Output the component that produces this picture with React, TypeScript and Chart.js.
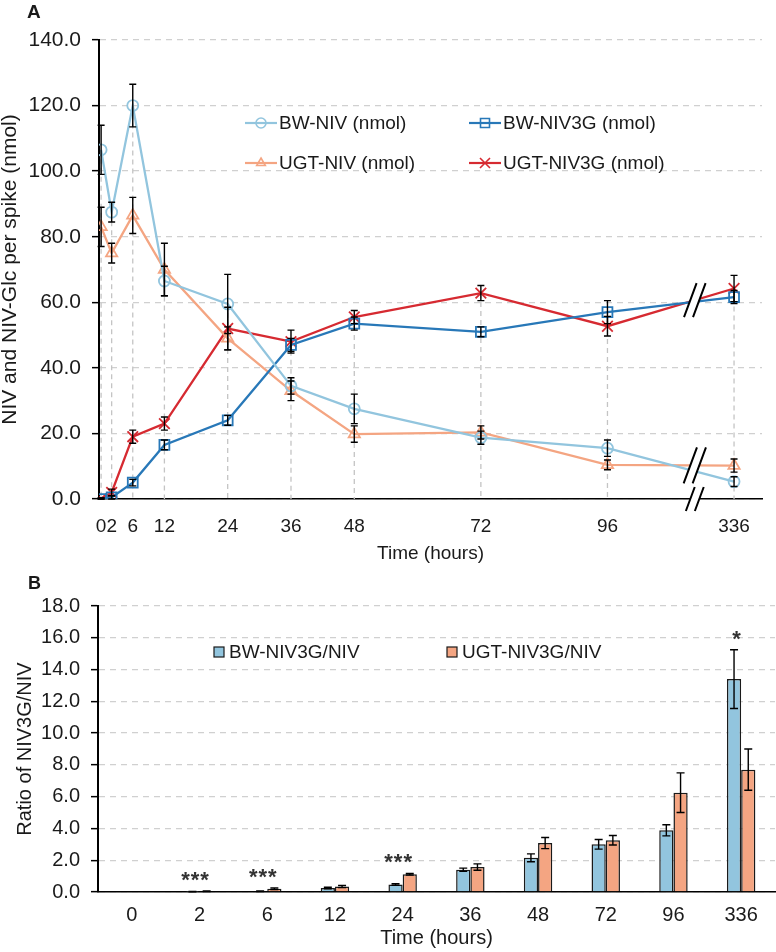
import React, { useEffect, useRef } from "react";
import { Chart, registerables } from "chart.js";

Chart.register(...registerables);

const FONT = "'Liberation Sans', Arial, Helvetica, sans-serif";
const INK = "#1a1a1a";
const GRID = "#d0d0d0";

// ---------- Data (panel A) ----------
const timeLabels = ["0", "2", "6", "12", "24", "36", "48", "72", "96", "336"];
const timeHours = [0, 2, 6, 12, 24, 36, 48, 72, 96, 336];

const bwNiv = [106.5, 87.5, 120.0, 66.5, 59.5, 34.5, 27.5, 18.7, 15.5, 5.3];
const bwNivErr = [7.5, 3.0, 6.5, 4.5, 9.0, 2.5, 4.5, 2.0, 2.5, 1.5];
const ugtNiv = [83.0, 75.0, 86.5, 70.0, 49.0, 33.0, 19.8, 20.3, 10.4, 10.2];
const ugtNivErr = [6.0, 3.0, 5.5, 8.0, 3.5, 3.0, 2.5, 2.0, 1.5, 2.0];
const bwNiv3g = [0.0, 0.5, 5.0, 16.5, 24.0, 47.0, 53.5, 51.0, 57.0, 61.6];
const bwNiv3gErr = [0.3, 0.5, 1.0, 1.5, 1.5, 2.0, 2.0, 1.5, 3.5, 2.0];
const ugtNiv3g = [0.0, 2.0, 19.0, 23.0, 52.0, 48.0, 55.5, 62.8, 52.7, 64.2];
const ugtNiv3gErr = [0.3, 1.0, 2.0, 2.0, 6.5, 3.5, 2.0, 2.3, 3.0, 4.0];

const topYTicks = [0, 20, 40, 60, 80, 100, 120, 140];

// ---------- Data (panel B) ----------
const bwRatio = [0, 0.02, 0.05, 0.25, 0.47, 1.4, 2.15, 3.0, 3.88, 13.4];
const bwRatioErr = [0, 0.01, 0.02, 0.05, 0.05, 0.1, 0.25, 0.3, 0.35, 1.85];
const ugtRatio = [0, 0.05, 0.2, 0.35, 1.12, 1.57, 3.08, 3.26, 6.25, 7.7];
const ugtRatioErr = [0, 0.02, 0.05, 0.07, 0.05, 0.2, 0.35, 0.3, 1.25, 1.3];
const sigMarks = ["", "***", "***", "", "***", "", "", "", "", "*"];

// axis break: hours beyond 96 are drawn one 24-h step further on
const breakAt = 96;
const breakGap = 24;
const plotX = (h: number) => (h > breakAt ? breakAt + breakGap : h);

const colBwNiv = "#92C5DE";
const colBwNiv3g = "#2878B8";
const colUgtNiv = "#F4A582";
const colUgtNiv3g = "#D62A31";

const topSeries = [
  { label: "BW-NIV (nmol)", values: bwNiv, errors: bwNivErr, color: colBwNiv, style: "circle", radius: 5.5 },
  { label: "BW-NIV3G (nmol)", values: bwNiv3g, errors: bwNiv3gErr, color: colBwNiv3g, style: "rect", radius: 7 },
  { label: "UGT-NIV (nmol)", values: ugtNiv, errors: ugtNivErr, color: colUgtNiv, style: "triangle", radius: 6.5 },
  { label: "UGT-NIV3G (nmol)", values: ugtNiv3g, errors: ugtNiv3gErr, color: colUgtNiv3g, style: "crossRot", radius: 7.5 },
];

const bottomSeries = [
  { label: "BW-NIV3G/NIV", values: bwRatio, errors: bwRatioErr, color: colBwNiv },
  { label: "UGT-NIV3G/NIV", values: ugtRatio, errors: ugtRatioErr, color: colUgtNiv },
];

function drawMarker(ctx: CanvasRenderingContext2D, style: string, x: number, y: number, r: number, color: string, lw: number) {
  ctx.save();
  ctx.strokeStyle = color;
  ctx.lineWidth = lw;
  ctx.setLineDash([]);
  ctx.beginPath();
  if (style === "circle") ctx.arc(x, y, r, 0, Math.PI * 2);
  else if (style === "rect") ctx.rect(x - r, y - r, 2 * r, 2 * r);
  else if (style === "triangle") {
    ctx.moveTo(x, y - r);
    ctx.lineTo(x + r * 0.866, y + r * 0.5);
    ctx.lineTo(x - r * 0.866, y + r * 0.5);
    ctx.closePath();
  } else {
    ctx.moveTo(x - r, y - r);
    ctx.lineTo(x + r, y + r);
    ctx.moveTo(x + r, y - r);
    ctx.lineTo(x - r, y + r);
  }
  ctx.stroke();
  ctx.restore();
}

function drawErrorBars(chart: any, series: { values: number[]; errors: number[] }[], cap: number) {
  const ctx: CanvasRenderingContext2D = chart.ctx;
  const ys = chart.scales.y;
  ctx.save();
  ctx.strokeStyle = "#000";
  ctx.lineWidth = 1.4;
  ctx.setLineDash([]);
  series.forEach((s, i) => {
    const meta = chart.getDatasetMeta(i);
    meta.data.forEach((el: any, j: number) => {
      const e = s.errors[j];
      if (!e) return;
      const v = s.values[j];
      const x = el.x;
      const y1 = ys.getPixelForValue(v + e);
      const y2 = ys.getPixelForValue(Math.max(0, v - e));
      ctx.beginPath();
      ctx.moveTo(x, y1);
      ctx.lineTo(x, y2);
      ctx.moveTo(x - cap, y1);
      ctx.lineTo(x + cap, y1);
      ctx.moveTo(x - cap, y2);
      ctx.lineTo(x + cap, y2);
      ctx.stroke();
    });
  });
  ctx.restore();
}

function drawBreak(ctx: CanvasRenderingContext2D, cx: number, cy: number, h: number) {
  const dx = h * 0.37;
  const g = 4.5;
  ctx.save();
  ctx.setLineDash([]);
  ctx.fillStyle = "#fff";
  ctx.beginPath();
  ctx.moveTo(cx - g - dx / 2, cy + h / 2);
  ctx.lineTo(cx - g + dx / 2, cy - h / 2);
  ctx.lineTo(cx + g + dx / 2, cy - h / 2);
  ctx.lineTo(cx + g - dx / 2, cy + h / 2);
  ctx.closePath();
  ctx.fill();
  ctx.strokeStyle = "#000";
  ctx.lineWidth = 2;
  ctx.beginPath();
  ctx.moveTo(cx - g - dx / 2, cy + h / 2);
  ctx.lineTo(cx - g + dx / 2, cy - h / 2);
  ctx.moveTo(cx + g - dx / 2, cy + h / 2);
  ctx.lineTo(cx + g + dx / 2, cy - h / 2);
  ctx.stroke();
  ctx.restore();
}

const topPlugin = {
  id: "topExtras",
  beforeDatasetsDraw(chart: any) {
    const ctx: CanvasRenderingContext2D = chart.ctx;
    const xs = chart.scales.x;
    const ys = chart.scales.y;
    ctx.save();
    ctx.setLineDash([5, 4]);
    ctx.strokeStyle = "#c4c4c4";
    ctx.lineWidth = 1.3;
    timeHours.forEach((h, j) => {
      const maxV = Math.max(...topSeries.map((s) => s.values[j]));
      const px = xs.getPixelForValue(plotX(h));
      ctx.beginPath();
      ctx.moveTo(px, ys.getPixelForValue(maxV));
      ctx.lineTo(px, ys.getPixelForValue(0));
      ctx.stroke();
    });
    ctx.restore();
  },
  afterDatasetsDraw(chart: any) {
    drawErrorBars(chart, topSeries, 3.5);
    const ctx: CanvasRenderingContext2D = chart.ctx;
    const xs = chart.scales.x;
    const ys = chart.scales.y;
    const t = 0.69;
    const n = timeHours.length;
    const lerp = (a: number[]) => a[n - 2] + (a[n - 1] - a[n - 2]) * t;
    const bx = xs.getPixelForValue(breakAt + breakGap * t);
    const yTop = Math.max(lerp(bwNiv3g), lerp(ugtNiv3g));
    const yMid = Math.max(lerp(bwNiv), lerp(ugtNiv));
    drawBreak(ctx, bx, ys.getPixelForValue(yTop), 34);
    drawBreak(ctx, bx, ys.getPixelForValue(yMid), 36);
    drawBreak(ctx, bx, ys.getPixelForValue(0), 24);
  },
  afterDraw(chart: any) {
    const ctx: CanvasRenderingContext2D = chart.ctx;
    const cols = [245, 469];
    const rows = [123, 163];
    ctx.save();
    ctx.font = `19px ${FONT}`;
    ctx.textBaseline = "middle";
    ctx.textAlign = "left";
    topSeries.forEach((s, i) => {
      const x = cols[i % 2];
      const y = rows[Math.floor(i / 2)];
      ctx.strokeStyle = s.color;
      ctx.lineWidth = 2.2;
      ctx.setLineDash([]);
      ctx.beginPath();
      ctx.moveTo(x, y);
      ctx.lineTo(x + 32, y);
      ctx.stroke();
      drawMarker(ctx, s.style, x + 16, y, s.style === "rect" ? 4.5 : 5, s.color, 1.6);
      ctx.fillStyle = INK;
      ctx.fillText(s.label, x + 34, y + 1);
    });
    ctx.restore();
  },
};

const bottomPlugin = {
  id: "bottomExtras",
  afterDatasetsDraw(chart: any) {
    drawErrorBars(chart, bottomSeries, 4);
    const ctx: any = chart.ctx;
    const xs = chart.scales.x;
    const ys = chart.scales.y;
    ctx.save();
    ctx.fillStyle = "#333";
    ctx.font = `bold 22px ${FONT}`;
    ctx.letterSpacing = "1px";
    ctx.textAlign = "center";
    ctx.textBaseline = "middle";
    sigMarks.forEach((m, j) => {
      if (!m) return;
      const top = Math.max(...bottomSeries.map((s) => s.values[j] + s.errors[j]));
      const px = xs.getPixelForValue(j);
      ctx.fillText(m, px - 4, ys.getPixelForValue(top) - 10);
    });
    ctx.restore();
  },
  afterDraw(chart: any) {
    const ctx: CanvasRenderingContext2D = chart.ctx;
    const xsPos = [214, 447];
    const y = 82;
    ctx.save();
    ctx.font = `19px ${FONT}`;
    ctx.textBaseline = "middle";
    ctx.textAlign = "left";
    bottomSeries.forEach((s, i) => {
      const x = xsPos[i];
      ctx.fillStyle = s.color;
      ctx.fillRect(x, y - 5, 10, 10);
      ctx.strokeStyle = INK;
      ctx.lineWidth = 1.2;
      ctx.strokeRect(x, y - 5, 10, 10);
      ctx.fillStyle = INK;
      ctx.fillText(s.label, x + 15, y + 1);
    });
    ctx.restore();
  },
};

function topConfig(): any {
  return {
    type: "line",
    data: {
      datasets: topSeries.map((s) => ({
        label: s.label,
        data: timeHours.map((h, j) => ({ x: plotX(h), y: s.values[j] })),
        borderColor: s.color,
        backgroundColor: "rgba(0,0,0,0)",
        borderWidth: 2.3,
        pointStyle: s.style,
        pointRadius: s.radius,
        pointBorderWidth: 1.8,
        pointBorderColor: s.color,
        pointBackgroundColor: "rgba(0,0,0,0)",
        tension: 0,
        fill: false,
      })),
    },
    options: {
      responsive: false,
      animation: false,
      events: [],
      layout: { padding: { top: 40, right: 14, bottom: 0, left: 0 } },
      plugins: { legend: { display: false }, tooltip: { enabled: false } },
      scales: {
        x: {
          type: "linear",
          min: -0.4,
          max: 125.3,
          afterBuildTicks: (scale: any) => {
            scale.ticks = timeHours.map((h) => ({ value: plotX(h) }));
          },
          afterFit: (scale: any) => {
            scale.height = 71;
          },
          ticks: {
            autoSkip: false,
            maxRotation: 0,
            padding: 16,
            color: INK,
            font: { family: FONT, size: 19 },
            callback: (value: number) => {
              const idx = timeHours.map(plotX).indexOf(value);
              return idx >= 0 ? timeLabels[idx] : "";
            },
          },
          grid: { display: false, drawTicks: false },
          border: { display: true, color: "#000", width: 1.6 },
          title: {
            display: true,
            text: "Time (hours)",
            color: INK,
            font: { family: FONT, size: 19 },
            padding: { top: 0, bottom: 5 },
          },
        },
        y: {
          min: 0,
          max: 140,
          afterBuildTicks: (scale: any) => {
            scale.ticks = topYTicks.map((v) => ({ value: v }));
          },
          afterFit: (scale: any) => {
            scale.width = 99;
          },
          ticks: {
            padding: 11,
            color: INK,
            font: { family: FONT, size: 21 },
            callback: (v: number) => Number(v).toFixed(1),
          },
          grid: {
            color: GRID,
            lineWidth: 1.3,
            drawTicks: true,
            tickLength: 7,
            tickColor: "#000",
            tickWidth: 1.5,
            tickBorderDash: [],
          },
          border: { display: true, color: "#000", width: 2, dash: [6, 5] },
          title: {
            display: true,
            text: "NIV and NIV-Glc per spike (nmol)",
            color: INK,
            font: { family: FONT, size: 21, lineHeight: 1 },
            padding: { top: 0, bottom: 0 },
          },
        },
      },
    },
    plugins: [topPlugin],
  };
}

function bottomConfig(): any {
  return {
    type: "bar",
    data: {
      labels: timeLabels,
      datasets: bottomSeries.map((s) => ({
        label: s.label,
        data: s.values,
        backgroundColor: s.color,
        borderColor: INK,
        borderWidth: 1.5,
        categoryPercentage: 0.42,
        barPercentage: 1.0,
      })),
    },
    options: {
      responsive: false,
      animation: false,
      events: [],
      layout: { padding: { top: 36, right: 1, bottom: 0, left: 0 } },
      plugins: { legend: { display: false }, tooltip: { enabled: false } },
      scales: {
        x: {
          afterFit: (scale: any) => {
            scale.height = 60;
          },
          ticks: {
            autoSkip: false,
            maxRotation: 0,
            padding: 11,
            color: INK,
            font: { family: FONT, size: 20 },
          },
          grid: { display: false, drawTicks: false },
          border: { display: true, color: "#000", width: 1.6 },
          title: {
            display: true,
            text: "Time (hours)",
            color: INK,
            font: { family: FONT, size: 20 },
            padding: { top: 0, bottom: 2 },
          },
        },
        y: {
          min: 0,
          max: 18,
          afterFit: (scale: any) => {
            scale.width = 98;
          },
          ticks: {
            stepSize: 2,
            padding: 11,
            color: INK,
            font: { family: FONT, size: 20 },
            callback: (v: number) => Number(v).toFixed(1),
          },
          grid: {
            color: GRID,
            lineWidth: 1.3,
            drawTicks: true,
            tickLength: 7,
            tickColor: "#000",
            tickWidth: 1.5,
            tickBorderDash: [],
          },
          border: { display: true, color: "#000", width: 2, dash: [6, 5] },
          title: {
            display: true,
            text: "Ratio of NIV3G/NIV",
            color: INK,
            font: { family: FONT, size: 20, lineHeight: 1 },
            padding: { top: 15, bottom: 0 },
          },
        },
      },
    },
    plugins: [bottomPlugin],
  };
}

export default function App() {
  const topRef = useRef<HTMLCanvasElement>(null);
  const botRef = useRef<HTMLCanvasElement>(null);

  useEffect(() => {
    const c1 = new Chart(topRef.current as HTMLCanvasElement, topConfig());
    const c2 = new Chart(botRef.current as HTMLCanvasElement, bottomConfig());
    return () => {
      c1.destroy();
      c2.destroy();
    };
  }, []);

  return (
    <div style={{ position: "absolute", left: 0, top: 0, width: 776, height: 952, background: "#fff", fontFamily: FONT, color: INK }}>
      <canvas ref={topRef} width={776} height={570} style={{ position: "absolute", left: 0, top: 0, width: 776, height: 570 }} />
      <canvas ref={botRef} width={776} height={382} style={{ position: "absolute", left: 0, top: 570, width: 776, height: 382 }} />
      <div style={{ position: "absolute", left: 27, top: 2, fontWeight: "bold", fontSize: 19, lineHeight: "19px" }}>A</div>
      <div style={{ position: "absolute", left: 28, top: 574, fontWeight: "bold", fontSize: 18, lineHeight: "18px" }}>B</div>
    </div>
  );
}
